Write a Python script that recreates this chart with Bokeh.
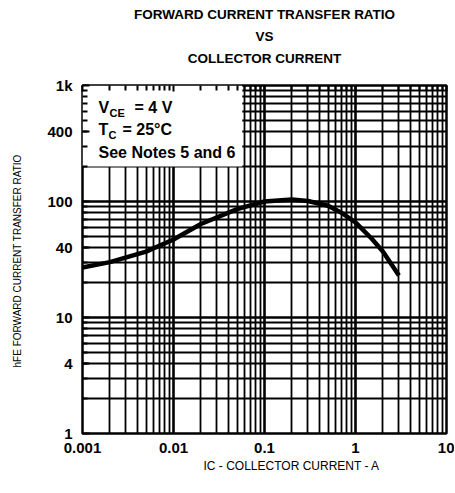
from bokeh.plotting import figure
from bokeh.models import FixedTicker, Label, LogAxis, Range1d, Title
from bokeh.embed import file_html
from bokeh.resources import INLINE

# ---- data ----
ic_amps = [0.001, 0.002, 0.005, 0.01, 0.02, 0.05, 0.1, 0.2, 0.3, 0.5, 0.7, 1.0, 1.5, 2.0, 3.0]
hfe_vals = [27, 30, 37, 47, 64, 86, 100, 104, 101, 92, 80, 66, 48, 37, 23]

x_major = [0.001, 0.01, 0.1, 1, 10]
x_labels = ["0.001", "0.01", "0.1", "1", "10"]
y_major = [1, 4, 10, 40, 100, 400, 1000]
y_labels = ["1", "4", "10", "40", "100", "400", "1k"]
y_decades = [1, 10, 100, 1000]
mantissas = [2, 3, 4, 5, 6, 7, 8, 9]

title_lines = ["FORWARD CURRENT TRANSFER RATIO", "VS", "COLLECTOR CURRENT"]
x_title = "IC - COLLECTOR CURRENT - A"
y_title = "hFE  FORWARD CURRENT TRANSFER RATIO"

# white annotation box region (data units)
box_x = [0.001, 0.057]
box_y = [200, 1000]

W, H = 454, 492
FL, FR, FT, FB = 82, 446, 85, 433   # frame edges on the page
FONT = "Liberation Sans"

p = figure(width=W, height=H, x_axis_type="log", y_axis_type="log",
           x_range=Range1d(0.001, 10), y_range=Range1d(1, 1000),
           output_backend="svg", toolbar_location=None,
           min_border_left=FL, min_border_right=W - FR,
           min_border_top=FT, min_border_bottom=H - FB)
p.background_fill_color = "white"
p.border_fill_color = "white"
p.outline_line_color = "black"
p.outline_line_width = 2.5

x_minor = [m * d for d in [0.001, 0.01, 0.1, 1] for m in mantissas]
y_minor = [m * d for d in [1, 10, 100] for m in mantissas]

# grids
p.xgrid.ticker = FixedTicker(ticks=x_major, minor_ticks=x_minor)
p.ygrid.ticker = FixedTicker(ticks=y_decades, minor_ticks=y_minor)
for g in (p.xgrid, p.ygrid):
    g.grid_line_color = "black"
    g.grid_line_width = 2.6
    g.grid_line_alpha = 1.0
    g.minor_grid_line_color = "black"
    g.minor_grid_line_width = 1.8

# white box behind the annotation text
p.quad(left=[box_x[0]], right=[box_x[1]], bottom=[box_y[0]], top=[box_y[1]],
       fill_color="white", line_color=None)

# curve
p.line(ic_amps, hfe_vals, line_color="black", line_width=4.5)

# axes
xa = p.xaxis[0]
xa.ticker = FixedTicker(ticks=x_major, minor_ticks=x_minor)
xa.major_label_overrides = {v: s for v, s in zip(x_major, x_labels)}
xa.axis_line_color = None
xa.major_tick_line_color = None
xa.minor_tick_line_color = None
xa.major_label_standoff = 3
xa.major_label_text_font = FONT
xa.major_label_text_font_style = "bold"
xa.major_label_text_font_size = "15px"
xa.major_label_text_color = "black"

ya = p.yaxis[0]
ya.ticker = FixedTicker(ticks=y_major, minor_ticks=y_minor)
ya.major_label_overrides = {v: s for v, s in zip(y_major, y_labels)}
ya.axis_line_color = None
ya.major_tick_in = 7
ya.major_tick_out = 0
ya.minor_tick_in = 5
ya.minor_tick_out = 0
ya.major_tick_line_color = "black"
ya.major_tick_line_width = 2
ya.minor_tick_line_color = "black"
ya.minor_tick_line_width = 2
ya.major_label_standoff = 10
ya.major_label_text_font = FONT
ya.major_label_text_font_style = "bold"
ya.major_label_text_font_size = "15px"
ya.major_label_text_color = "black"
ya.axis_label = y_title
ya.axis_label_text_font = FONT
ya.axis_label_text_font_style = "normal"
ya.axis_label_text_font_size = "10px"
ya.axis_label_text_color = "black"
ya.axis_label_standoff = 21

top_axis = LogAxis(ticker=FixedTicker(ticks=x_major, minor_ticks=x_minor))
top_axis.axis_line_color = None
top_axis.major_tick_in = 6
top_axis.major_tick_out = 0
top_axis.minor_tick_in = 5
top_axis.minor_tick_out = 0
top_axis.major_tick_line_color = "black"
top_axis.major_tick_line_width = 2
top_axis.minor_tick_line_color = "black"
top_axis.minor_tick_line_width = 2
top_axis.major_label_overrides = {v: "" for v in x_major}
top_axis.major_label_text_font_size = "0px"
top_axis.major_label_text_color = None
top_axis.major_label_standoff = 0
# invisible spacer label: keeps a gap between the frame and the titles
top_axis.axis_label = "."
top_axis.axis_label_text_font_size = "13px"
top_axis.axis_label_text_alpha = 0.0
top_axis.axis_label_standoff = 5
p.add_layout(top_axis, "above")

# three title lines, stacked outward from the frame
for t in reversed(title_lines):
    p.add_layout(Title(text=t, align="center", text_font=FONT,
                       text_font_size="13.5px", text_font_style="bold",
                       text_color="black", standoff=5), "above")

# x axis title, placed below the tick labels
p.add_layout(Title(text=x_title, align="left", offset=121, text_font=FONT,
                   text_font_size="12px", text_font_style="normal",
                   text_color="black", standoff=2), "below")


def lab(text, px, py, size, bold=True):
    # screen units are measured from the frame's bottom-left corner
    p.add_layout(Label(x=px - FL, y=FB - py, x_units="screen", y_units="screen",
                       text=text, text_font=FONT, text_font_size=size,
                       text_font_style="bold" if bold else "normal",
                       text_color="black", text_align="left",
                       text_baseline="alphabetic"))


# annotation inside the box
lab("V", 98, 107, "16px")
lab("CE", 109, 112, "11px")
lab("= 4 V", 134, 107, "16px")
lab("T", 98, 129, "16px")
lab("C", 108, 134, "11px")
lab("= 25\u00b0C", 122, 129, "16px")
lab("See Notes 5 and 6", 98, 152, "16px")

open("out.html", "w").write(file_html(p, INLINE))
